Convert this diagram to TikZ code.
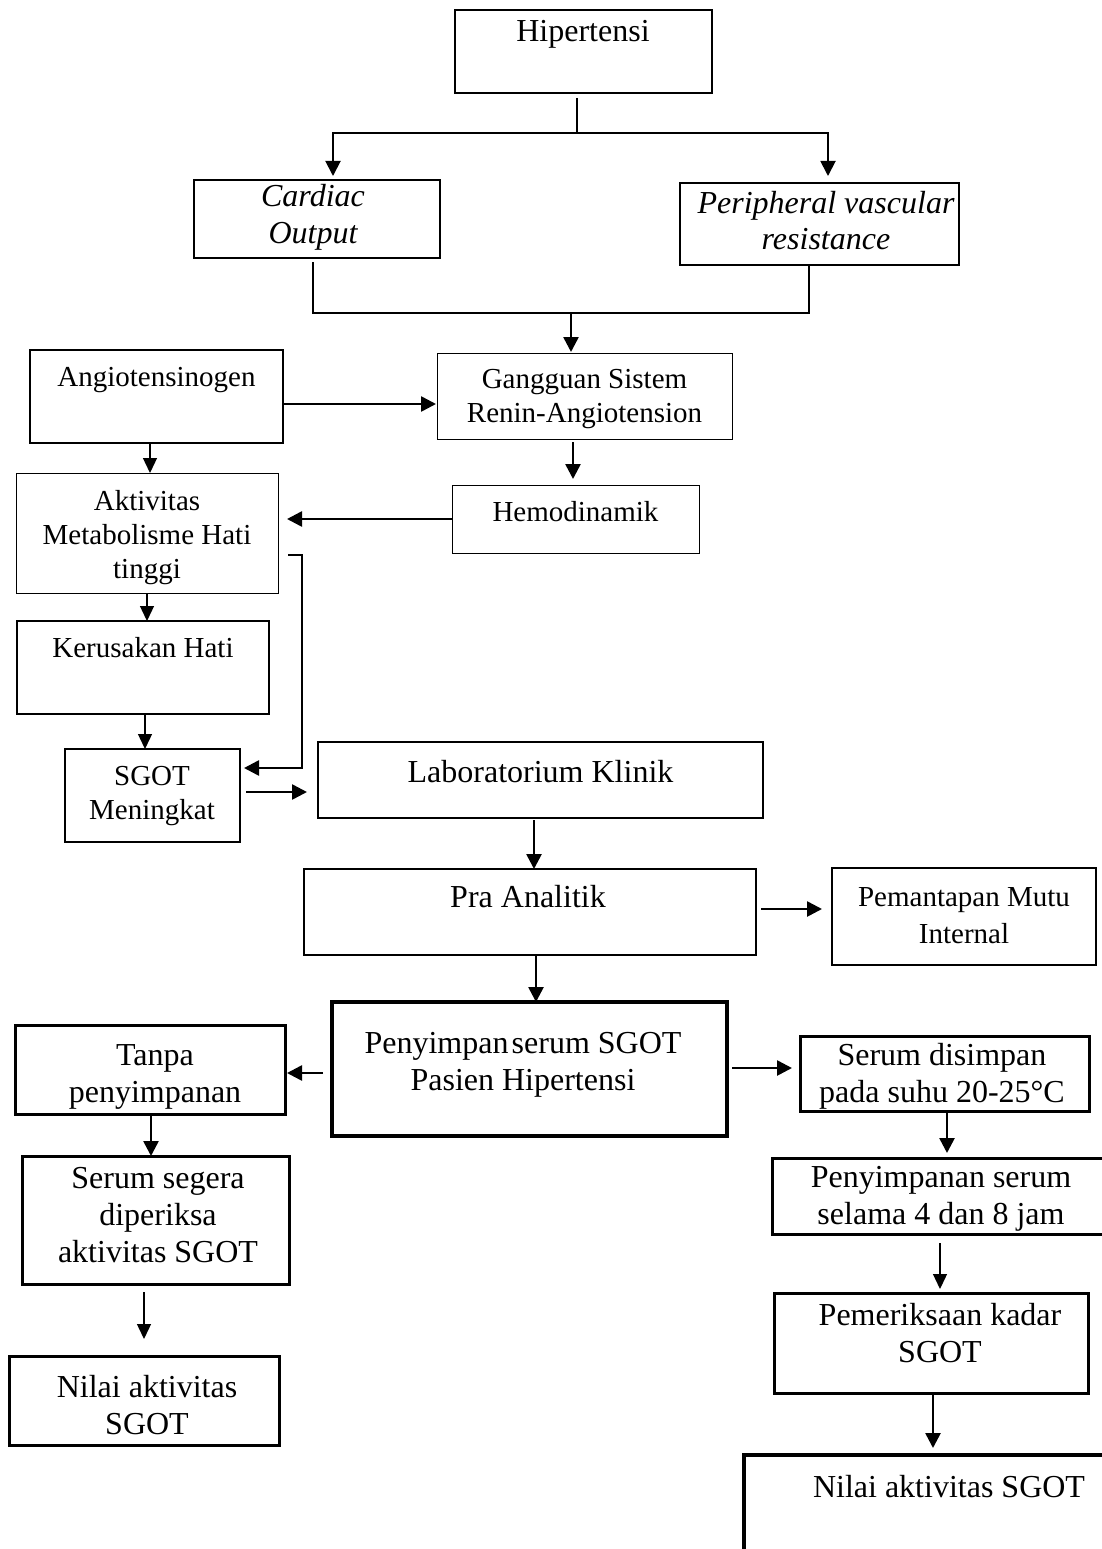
\documentclass[tikz,border=0pt]{standalone}
\usepackage{fontspec}
\setmainfont{Liberation Serif}
\usetikzlibrary{arrows.meta,fit}
\begin{document}
\begin{tikzpicture}[x=1pt,y=-1pt,
  bx/.style={draw, inner sep=0pt, outer sep=0pt},
  big/.style={font=\fontsize{32}{37}\selectfont},
  bigit/.style={font=\fontsize{32}{36}\selectfont\itshape},
  small/.style={font=\fontsize{29}{34}\selectfont},
  tx/.style={anchor=north, inner sep=0pt, outer sep=0pt, align=center},
  ln/.style={line width=1.3pt},
  lnM/.style={line width=1.9pt},
  lnT/.style={line width=2.6pt},
  arr/.style={ln, -{Triangle[length=15pt,width=14pt]}},
  arrM/.style={lnM, -{Triangle[length=15pt,width=15pt]}},
  arrT/.style={lnT, -{Triangle[length=15pt,width=15pt]}},
]
\useasboundingbox (0,0) rectangle (1101,1549);
\fill[white] (0,0) rectangle (1101,1549);

% ---------- boxes ----------
\node[bx, line width=2pt, fit={(455,10) (712,93)}] (hip) {};
\node[tx,big] (hipT) at (583,10) {\rule{0pt}{32pt}Hipertensi};

\node[bx, line width=2.6pt, fit={(194,180) (440,258)}] (card) {};
\node[tx,bigit] (cardT) at (313,180) {\rule{0pt}{27pt}Cardiac\\Output};

\node[bx, line width=2.6pt, fit={(680,183) (959,265)}] (peri) {};
\node[tx,bigit] (periT) at (826,183) {\rule{0pt}{30pt}Peripheral vascular\\resistance};

\node[bx, line width=1.3pt, fit={(30,350) (283,443)}] (angio) {};
\node[tx,small] (angioT) at (156.5,350) {\rule{0pt}{36pt}Angiotensinogen};

\node[bx, line width=1pt, fit={(437,353) (732,439)}] (gang) {};
\node[tx,small] (gangT) at (584.5,353) {\rule{0pt}{35pt}Gangguan Sistem\\Renin-Angiotension};

\node[bx, line width=1pt, fit={(16,473) (278,593)}] (akt) {};
\node[tx,small] (aktT) at (147,473) {\rule{0pt}{37pt}Aktivitas\\Metabolisme Hati\\tinggi};

\node[bx, line width=1pt, fit={(452,485) (699,553)}] (hemo) {};
\node[tx,small] (hemoT) at (575.5,485) {\rule{0pt}{36pt}Hemodinamik};

\node[bx, line width=1.3pt, fit={(17,621) (269,714)}] (kerus) {};
\node[tx,small] (kerusT) at (143,621) {\rule{0pt}{36pt}Kerusakan Hati};

\node[bx, line width=1.3pt, fit={(65,749) (240,842)}] (sgot) {};
\node[tx,small] (sgotT) at (152,749) {\rule{0pt}{36pt}SGOT\\Meningkat};

\node[bx, line width=1.8pt, fit={(318,742) (763,818)}] (lab) {};
\node[tx,big] (labT) at (540.5,742) {\rule{0pt}{40pt}Laboratorium Klinik};

\node[bx, line width=1.6pt, fit={(304,869) (756,955)}] (pra) {};
\node[tx,big] (praT) at (528,869) {\rule{0pt}{38pt}Pra Analitik};

\node[bx, line width=1.8pt, fit={(832,868) (1096,965)}] (pem) {};
\node[tx,font=\fontsize{29}{37}\selectfont] (pemT) at (964,868) {\rule{0pt}{38pt}Pemantapan Mutu\\Internal};

\node[bx, line width=3.5pt, fit={(332,1002) (727,1136)}] (peny) {};
\node[tx,big] (penyT) at (523,1002) {\rule{0pt}{51pt}Penyimpan\hspace{0.1em}serum SGOT\\Pasien Hipertensi};

\node[bx, line width=3pt, fit={(15,1025) (285,1114)}] (tanpa) {};
\node[tx,big] (tanpaT) at (155,1025) {\rule{0pt}{40pt}Tanpa\\penyimpanan};

\node[bx, line width=3pt, fit={(800,1036) (1089,1111)}] (sdis) {};
\node[tx,big] (sdisT) at (942,1036) {\rule{0pt}{29pt}Serum disimpan\\pada suhu 20-25°C};

\node[bx, line width=3pt, fit={(22,1156) (289,1284)}] (seg) {};
\node[tx,big] (segT) at (158,1156) {\rule{0pt}{32pt}Serum segera\\diperiksa\\aktivitas SGOT};

\node[bx, line width=3pt, fit={(9,1356) (279,1445)}] (nilL) {};
\node[tx,big] (nilLT) at (147,1356) {\rule{0pt}{41pt}Nilai aktivitas\\SGOT};

\node[bx, line width=3pt, fit={(772,1158) (1110,1234)}] (pser) {};
\node[tx,big] (pserT) at (941,1158) {\rule{0pt}{29pt}Penyimpanan serum\\selama 4 dan 8 jam};

\node[bx, line width=3pt, fit={(774,1293) (1088,1393)}] (pemer) {};
\node[tx,big] (pemerT) at (940,1293) {\rule{0pt}{32pt}Pemeriksaan kadar\\SGOT};

\node[bx, line width=3.5pt, fit={(744,1455) (1154,1600)}] (nilR) {};
\node[tx,big] (nilRT) at (949,1455) {\rule{0pt}{42pt}Nilai aktivitas SGOT};

% ---------- connectors ----------
\coordinate (f1) at (577,133);
\draw[lnM, shorten <=5pt] (hip.south -| f1) -- (f1);
\draw[arrM, shorten >=4pt] (f1) -| (333,0 |- card.north);
\draw[arrM, shorten >=7pt] (f1) -| (828,0 |- peri.north);

\coordinate (m1) at (571,313);
\draw[lnM, shorten <=4pt] (313,0 |- card.south) -- (313,0 |- m1) -| (809,0 |- peri.south);
\draw[arrT, shorten >=1pt] (m1) -- (571,0 |- gang.north);

\draw[arrT, shorten <=1pt, shorten >=1pt] (angio.east |- 0,404) -- (gang.west |- 0,404);
\draw[arr] (150,0 |- angio.south) -- (150,0 |- akt.north);
\draw[arrT, shorten <=3pt, shorten >=6pt] (573,0 |- gang.south) -- (573,0 |- hemo.north);
\draw[arrT, shorten >=9pt] (hemo.west |- 0,519) -- (akt.east |- 0,519);
\draw[arrT, shorten <=10pt, shorten >=4pt] (akt.east |- 0,555) -- (302,0 |- akt.east |- 0,555) -- (302,768) -- (sgot.east |- 0,768);
\draw[arr] (147,0 |- akt.south) -- (147,0 |- kerus.north);
\draw[arr] (145,0 |- kerus.south) -- (145,0 |- sgot.north);
\draw[arrT, shorten <=6pt, shorten >=11pt] (sgot.east |- 0,792) -- (lab.west |- 0,792);
\draw[arrT, shorten <=2pt] (534,0 |- lab.south) -- (534,0 |- pra.north);
\draw[arrT, shorten <=5pt, shorten >=10pt] (pra.east |- 0,909) -- (pem.west |- 0,909);
\draw[arrT] (536,0 |- pra.south) -- (536,0 |- peny.north);
\draw[arrT, shorten <=9pt, shorten >=2pt] (peny.west |- 0,1073) -- (tanpa.east |- 0,1073);
\draw[arrT, shorten <=5pt, shorten >=8pt] (peny.east |- 0,1068) -- (sdis.west |- 0,1068);
\draw[arrT] (151,0 |- tanpa.south) -- (151,0 |- seg.north);
\draw[arr, shorten <=8pt, shorten >=17pt] (144,0 |- seg.south) -- (144,0 |- nilL.north);
\draw[arrT, shorten >=5pt] (947,0 |- sdis.south) -- (947,0 |- pser.north);
\draw[arr, shorten <=9pt, shorten >=4pt] (940,0 |- pser.south) -- (940,0 |- pemer.north);
\draw[arrT, shorten >=7pt] (933,0 |- pemer.south) -- (933,0 |- nilR.north);
\end{tikzpicture}
\end{document}
